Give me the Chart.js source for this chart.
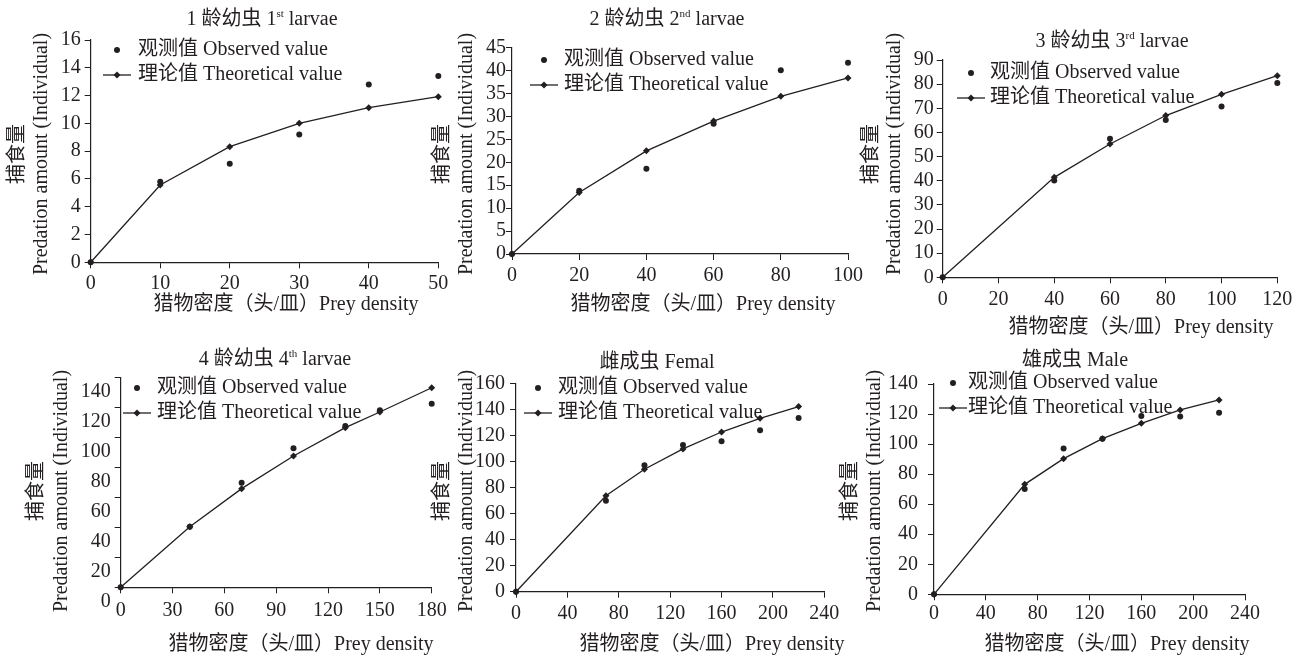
<!DOCTYPE html>
<html>
<head>
<meta charset="utf-8">
<script src="https://cdn.jsdelivr.net/npm/chart.js"></script>
<style>
  body { margin: 0; background: #fff; }
  #wrap { position: relative; width: 1307px; height: 658px; }
  canvas { position: absolute; left: 0; top: 0; }
</style>
</head>
<body>
<div id="wrap">
  <canvas id="c1" width="1307" height="658"></canvas>
  <canvas id="c2" width="1307" height="658"></canvas>
  <canvas id="c3" width="1307" height="658"></canvas>
  <canvas id="c4" width="1307" height="658"></canvas>
  <canvas id="c5" width="1307" height="658"></canvas>
  <canvas id="c6" width="1307" height="658"></canvas>
</div>
<script>
// prey density (x) and predation amounts per stage
const density1 = [0, 10, 20, 30, 40, 50];
const observed1 = [0, 5.8, 7.1, 9.2, 12.8, 13.4];
const theory1 = [0, 5.56, 8.32, 10.0, 11.13, 11.92];

const density2 = [0, 20, 40, 60, 80, 100];
const observed2 = [0, 13.8, 18.6, 28.4, 40.1, 41.7];
const theory2 = [0, 13.4, 22.5, 29.0, 34.4, 38.4];

const density3 = [0, 40, 60, 80, 100, 120];
const observed3 = [0, 40.1, 57.4, 65.2, 70.7, 80.5];
const theory3 = [0, 41.4, 55.2, 67.0, 75.8, 83.5];

const density4 = [0, 40, 70, 100, 130, 150, 180];
const observed4 = [0, 40.5, 69.9, 92.8, 107.7, 118.2, 122.6];
const theory4 = [0, 40.5, 65.9, 87.7, 106.6, 117.1, 133.3];

const density5 = [0, 70, 100, 130, 160, 190, 220];
const observed5 = [0, 69.9, 97.0, 112.6, 115.5, 123.9, 133.4];
const theory5 = [0, 73.7, 94.0, 109.6, 122.6, 133.1, 142.1];

const density6 = [0, 70, 100, 130, 160, 190, 220];
const observed6 = [0, 70.1, 97.0, 103.6, 118.7, 118.3, 120.9];
const theory6 = [0, 73.2, 90.3, 103.6, 113.8, 122.7, 129.4];

const obsLabel = '观测值 Observed value';
const theoLabel = '理论值 Theoretical value';
const xTitle = '猎物密度（头/皿）Prey density';
const yTitleEn = 'Predation amount (Individual)';
const yTitleCn = '捕食量';

const INK = '#231f20';
const FONT = '"Liberation Serif", "Noto Sans CJK SC", serif';
const FS = 20;

Chart.defaults.font.family = FONT;
Chart.defaults.font.size = FS;
Chart.defaults.color = INK;

function richText(ctx, parts, cx, cy) {
  let w = 0;
  parts.forEach(p => {
    ctx.font = (p[1] ? 11 : FS) + 'px ' + FONT;
    w += ctx.measureText(p[0]).width;
  });
  let x = cx - w / 2;
  ctx.textAlign = 'left';
  ctx.textBaseline = 'middle';
  parts.forEach(p => {
    ctx.font = (p[1] ? 11 : FS) + 'px ' + FONT;
    ctx.fillText(p[0], x, p[1] ? cy - 6 : cy);
    x += ctx.measureText(p[0]).width;
  });
}

function decor(d) {
  return {
    id: 'decor',
    afterDraw(chart) {
      const ctx = chart.ctx;
      ctx.save();
      ctx.fillStyle = INK;
      ctx.strokeStyle = INK;
      richText(ctx, d.title, d.tx, d.ty);

      ctx.font = FS + 'px ' + FONT;
      ctx.textAlign = 'center';
      ctx.textBaseline = 'middle';
      ctx.fillText(xTitle, d.xx, d.xy);

      [[d.yEn, yTitleEn], [d.yCn, yTitleCn]].forEach(t => {
        ctx.save();
        ctx.translate(t[0], d.yc);
        ctx.rotate(-Math.PI / 2);
        ctx.fillText(t[1], 0, 0);
        ctx.restore();
      });

      // legend
      const lx = d.lx, ly = d.ly;
      ctx.beginPath();
      ctx.arc(lx, ly, 3, 0, Math.PI * 2);
      ctx.fill();
      ctx.lineWidth = 1.3;
      ctx.beginPath();
      ctx.moveTo(lx - 14, ly + 25);
      ctx.lineTo(lx + 14, ly + 25);
      ctx.stroke();
      ctx.beginPath();
      ctx.moveTo(lx, ly + 21.5);
      ctx.lineTo(lx + 3.5, ly + 25);
      ctx.lineTo(lx, ly + 28.5);
      ctx.lineTo(lx - 3.5, ly + 25);
      ctx.closePath();
      ctx.fill();
      ctx.textAlign = 'left';
      ctx.fillText(obsLabel, d.ltx, ly);
      ctx.fillText(theoLabel, d.ltx, ly + 25);
      ctx.restore();
    }
  };
}

function axis(max, step, pad, extra, offset) {
  return Object.assign({
    type: 'linear',
    min: 0,
    max: max,
    ticks: { stepSize: step, padding: pad, maxRotation: 0, autoSkip: false, labelOffset: offset || 0 },
    grid: { drawOnChartArea: false, tickLength: 6, color: INK, lineWidth: 1 },
    border: { color: INK, width: 1.2 }
  }, extra || {});
}

function panel(id, xs, obs, theo, g, d) {
  new Chart(document.getElementById(id), {
    type: 'scatter',
    data: {
      datasets: [{
        label: theoLabel,
        data: xs.map((x, i) => ({ x: x, y: theo[i] })),
        showLine: true,
        borderColor: INK,
        borderWidth: 1.3,
        pointStyle: 'rectRot',
        pointRadius: 3.5,
        pointBackgroundColor: INK,
        pointBorderWidth: 0,
        clip: false
      }, {
        label: obsLabel,
        data: xs.map((x, i) => ({ x: x, y: obs[i] })),
        pointStyle: 'circle',
        pointRadius: 3,
        pointBackgroundColor: INK,
        pointBorderWidth: 0,
        clip: false
      }]
    },
    options: {
      responsive: false,
      animation: false,
      events: [],
      layout: { padding: { left: g.L - 60, right: 1307 - g.R, top: g.T, bottom: 658 - g.B - 40 } },
      plugins: { legend: { display: false }, tooltip: { enabled: false } },
      scales: {
        x: axis(g.xMax, g.xStep, g.xPad, { afterFit: s => { s.height = 40; } }),
        y: axis(g.yMax, g.yStep, g.yPad, { afterFit: s => { s.width = 60; } }, g.yOff)
      }
    },
    plugins: [decor(d)]
  });
}

panel('c1', density1, observed1, theory1,
  { L: 90.7, R: 438.3, T: 40, B: 262.3, xMax: 50, xStep: 10, yMax: 16, yStep: 2, xPad: 3, yPad: 4 },
  { title: [['1 龄幼虫 1'], ['st', 1], [' larvae']], tx: 262, ty: 20, xx: 286, xy: 305,
    yEn: 42, yCn: 18, yc: 154, lx: 117, ly: 50, ltx: 138 });

panel('c2', density2, observed2, theory2,
  { L: 512, R: 848, T: 47.7, B: 254, xMax: 100, xStep: 20, yMax: 45, yStep: 5, xPad: 4, yPad: 0 },
  { title: [['2 龄幼虫 2'], ['nd', 1], [' larvae']], tx: 667, ty: 20, xx: 703, xy: 305,
    yEn: 467, yCn: 443, yc: 154, lx: 544, ly: 60, ltx: 564 });

panel('c3', density3, observed3, theory3,
  { L: 942.7, R: 1277.3, T: 60, B: 277.3, xMax: 120, xStep: 20, yMax: 90, yStep: 10, xPad: 4, yPad: 3 },
  { title: [['3 龄幼虫 3'], ['rd', 1], [' larvae']], tx: 1112, ty: 42, xx: 1141, xy: 328,
    yEn: 895, yCn: 872, yc: 154, lx: 971, ly: 73, ltx: 990 });

panel('c4', density4, observed4, theory4,
  { L: 120.7, R: 431.7, T: 377.7, B: 587.3, xMax: 180, xStep: 30, yMax: 140, yStep: 20, xPad: 5, yPad: 4, yOff: 14 },
  { title: [['4 龄幼虫 4'], ['th', 1], [' larvae']], tx: 275, ty: 360, xx: 301, xy: 645,
    yEn: 62, yCn: 37, yc: 491, lx: 137, ly: 388, ltx: 157 });

panel('c5', density5, observed5, theory5,
  { L: 516, R: 824.3, T: 383.3, B: 591.7, xMax: 240, xStep: 40, yMax: 160, yStep: 20, xPad: 4, yPad: 5 },
  { title: [['雌成虫 Femal']], tx: 657, ty: 363, xx: 712, xy: 645,
    yEn: 467, yCn: 443, yc: 491, lx: 538, ly: 388, ltx: 558 });

panel('c6', density6, observed6, theory6,
  { L: 934, R: 1245, T: 384, B: 594.3, xMax: 240, xStep: 40, yMax: 140, yStep: 20, xPad: 1, yPad: 10 },
  { title: [['雄成虫 Male']], tx: 1075, ty: 361, xx: 1117, xy: 645,
    yEn: 875, yCn: 851, yc: 491, lx: 953, ly: 383, ltx: 968 });
</script>
</body>
</html>
